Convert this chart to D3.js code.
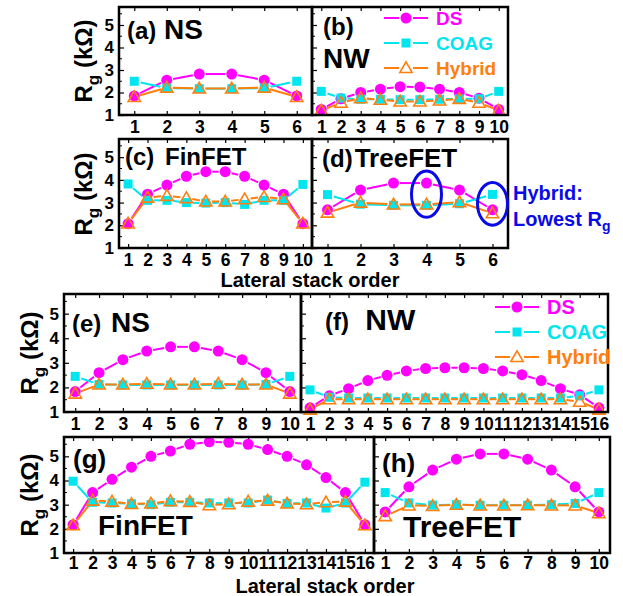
<!DOCTYPE html>
<html>
<head>
<meta charset="utf-8">
<script src="https://cdn.jsdelivr.net/npm/d3@7"></script>
<style>
  body { margin: 0; background: #fff; }
  svg { display: block; }
  text { font-family: "Liberation Sans", Arial, sans-serif; font-weight: bold; }
</style>
</head>
<body>
<svg id="chart" width="623" height="596"></svg>
<script>
// stack order categories
const order6 = [1, 2, 3, 4, 5, 6];
const order10 = [1, 2, 3, 4, 5, 6, 7, 8, 9, 10];
const order16 = [1, 2, 3, 4, 5, 6, 7, 8, 9, 10, 11, 12, 13, 14, 15, 16];
const yTicks = [1, 2, 3, 4, 5];

// (a) NS, 6 stacks
const aDS     = [1.85, 2.55, 2.82, 2.82, 2.55, 1.85];
const aCOAG   = [2.50, 2.20, 2.17, 2.17, 2.20, 2.50];
const aHybrid = [1.80, 2.22, 2.18, 2.18, 2.22, 1.80];
// (b) NW, 10 stacks
const bDS     = [1.25, 1.72, 2.00, 2.15, 2.26, 2.24, 2.15, 2.00, 1.75, 1.25];
const bCOAG   = [2.05, 1.75, 1.70, 1.70, 1.68, 1.68, 1.70, 1.72, 1.72, 2.05];
const bHybrid = [1.20, 1.55, 1.75, 1.68, 1.60, 1.60, 1.65, 1.72, 1.55, 1.20];
// (c) FinFET, 10 stacks
const cDS     = [2.07, 3.37, 3.77, 4.16, 4.36, 4.36, 4.16, 3.77, 3.37, 2.07];
const cCOAG   = [3.82, 3.10, 3.10, 3.00, 2.98, 3.00, 2.92, 3.10, 3.10, 3.80];
const cHybrid = [2.08, 3.22, 3.30, 3.20, 3.05, 3.05, 3.15, 3.25, 3.15, 2.08];
// (d) TreeFET, 6 stacks
const dDS     = [2.68, 3.55, 3.86, 3.86, 3.55, 2.68];
const dCOAG   = [3.35, 2.93, 2.88, 2.88, 2.95, 3.36];
const dHybrid = [2.56, 3.00, 2.92, 2.92, 3.02, 2.53];
// (e) NS, 10 stacks
const eDS     = [1.83, 2.60, 3.13, 3.48, 3.65, 3.65, 3.48, 3.13, 2.60, 1.83];
const eCOAG   = [2.45, 2.12, 2.10, 2.10, 2.10, 2.10, 2.10, 2.10, 2.12, 2.45];
const eHybrid = [1.75, 2.12, 2.12, 2.15, 2.12, 2.12, 2.15, 2.12, 2.12, 1.75];
// (f) NW, 16 stacks
const fDS     = [1.17, 1.66, 1.95, 2.28, 2.49, 2.67, 2.77, 2.80, 2.80, 2.77, 2.67, 2.52, 2.28, 1.95, 1.70, 1.17];
const fCOAG   = [1.90, 1.60, 1.57, 1.57, 1.57, 1.57, 1.57, 1.57, 1.57, 1.57, 1.57, 1.57, 1.57, 1.57, 1.66, 1.90];
const fHybrid = [1.10, 1.52, 1.52, 1.52, 1.52, 1.52, 1.52, 1.52, 1.52, 1.52, 1.52, 1.52, 1.52, 1.52, 1.42, 1.10];
// (g) FinFET, 16 stacks
const gDS     = [2.17, 3.50, 4.05, 4.55, 5.00, 5.22, 5.50, 5.60, 5.58, 5.50, 5.28, 5.00, 4.65, 4.12, 3.50, 2.17];
const gCOAG   = [3.97, 3.10, 3.07, 3.04, 3.00, 3.10, 3.10, 3.07, 3.07, 3.07, 3.19, 3.05, 3.07, 2.86, 3.07, 3.93];
const gHybrid = [2.15, 3.17, 3.13, 3.03, 3.05, 3.15, 3.12, 2.98, 3.02, 3.13, 3.17, 3.05, 3.02, 3.10, 3.13, 2.15];
// (h) TreeFET, 10 stacks
const hDS     = [2.70, 3.74, 4.43, 4.88, 5.10, 5.10, 4.88, 4.43, 3.74, 2.70];
const hCOAG   = [3.50, 3.07, 2.98, 3.00, 2.98, 2.98, 2.98, 3.00, 3.05, 3.50];
const hHybrid = [2.53, 2.97, 2.95, 3.00, 2.97, 2.97, 2.98, 2.97, 2.97, 2.65];

const colDS = '#ff00ff', colCOAG = '#00e5ee', colHyb = '#ff7f0e', colNote = '#0a0ae6';

const svg = d3.select('#chart');

// panel boxes (pixels)
const panels = [
  {id: 'a', x0: 119, x1: 312, y0: 7,   y1: 115, order: order6,  ds: aDS, coag: aCOAG, hyb: aHybrid, ylab: true,  pad: 6},
  {id: 'b', x0: 312, x1: 508, y0: 7,   y1: 115, order: order10, ds: bDS, coag: bCOAG, hyb: bHybrid, ylab: false, pad: 6},
  {id: 'c', x0: 119, x1: 312, y0: 139, y1: 248, order: order10, ds: cDS, coag: cCOAG, hyb: cHybrid, ylab: true,  pad: 6},
  {id: 'd', x0: 312, x1: 508, y0: 139, y1: 248, order: order6,  ds: dDS, coag: dCOAG, hyb: dHybrid, ylab: false, pad: 6},
  {id: 'e', x0: 64,  x1: 301, y0: 294, y1: 412, order: order10, ds: eDS, coag: eCOAG, hyb: eHybrid, ylab: true,  pad: 6},
  {id: 'f', x0: 301, x1: 608, y0: 294, y1: 412, order: order16, ds: fDS, coag: fCOAG, hyb: fHybrid, ylab: false, pad: 6},
  {id: 'g', x0: 64,  x1: 374, y0: 437, y1: 553, order: order16, ds: gDS, coag: gCOAG, hyb: gHybrid, ylab: true,  pad: 4},
  {id: 'h', x0: 374, x1: 610, y0: 437, y1: 553, order: order10, ds: hDS, coag: hCOAG, hyb: hHybrid, ylab: false, pad: 4}
];

// line with small gaps at the markers, like the original
function gapLine(g, pts, color, gap) {
  for (let i = 0; i < pts.length - 1; i++) {
    const [x1, y1] = pts[i], [x2, y2] = pts[i + 1];
    const len = Math.hypot(x2 - x1, y2 - y1);
    if (len <= 2 * gap) continue;
    const ux = (x2 - x1) / len, uy = (y2 - y1) / len;
    g.append('line')
      .attr('x1', x1 + ux * gap).attr('y1', y1 + uy * gap)
      .attr('x2', x2 - ux * gap).attr('y2', y2 - uy * gap)
      .attr('stroke', color).attr('stroke-width', 2);
  }
}

const tri = d3.symbol().type(d3.symbolTriangle).size(66);

function marker(g, kind, x, y) {
  if (kind === 'ds') {
    g.append('circle').attr('cx', x).attr('cy', y).attr('r', 5.5).attr('fill', colDS);
  } else if (kind === 'coag') {
    g.append('rect').attr('x', x - 4.5).attr('y', y - 4.5).attr('width', 9).attr('height', 9).attr('fill', colCOAG);
  } else {
    g.append('path').attr('d', tri).attr('transform', `translate(${x},${y + 1})`)
      .attr('fill', 'none').attr('stroke', colHyb).attr('stroke-width', 1.6);
  }
}

panels.forEach(p => {
  const n = p.order.length;
  p.x = d3.scaleLinear().domain([0.53, n + 0.47]).range([p.x0, p.x1]);
  p.y = d3.scaleLinear().domain([1, 5.8]).range([p.y1, p.y0]);
  const g = svg.append('g').attr('class', 'panel-' + p.id);

  // y axis (left)
  const yAx = d3.axisLeft(p.y).tickValues(yTicks).tickSizeInner(-5).tickSizeOuter(0).tickPadding(5)
    .tickFormat(p.ylab ? d3.format('d') : '');
  g.append('g').attr('transform', `translate(${p.x0},0)`).call(yAx)
    .call(s => s.select('.domain').remove())
    .call(s => s.selectAll('text').style('font-size', '17px').attr('fill', '#000'))
    .call(s => s.selectAll('line').attr('stroke-width', 1.2));
  [1.5, 2.5, 3.5, 4.5, 5.5].forEach(v => {
    g.append('line').attr('x1', p.x0).attr('x2', p.x0 + 3).attr('y1', p.y(v)).attr('y2', p.y(v))
      .attr('stroke', '#000').attr('stroke-width', 1);
  });

  // x axis (bottom) and top ticks
  const xAx = d3.axisBottom(p.x).tickValues(p.order).tickSizeInner(-4).tickSizeOuter(0).tickPadding(p.pad)
    .tickFormat(d3.format('d'));
  g.append('g').attr('transform', `translate(0,${p.y1})`).call(xAx)
    .call(s => s.select('.domain').remove())
    .call(s => s.selectAll('text').style('font-size', '17.5px').attr('fill', '#000'))
    .call(s => s.selectAll('line').attr('stroke-width', 1.2));
  const tAx = d3.axisTop(p.x).tickValues(p.order).tickSizeInner(-4).tickSizeOuter(0).tickFormat('');
  g.append('g').attr('transform', `translate(0,${p.y0})`).call(tAx)
    .call(s => s.select('.domain').remove())
    .call(s => s.selectAll('line').attr('stroke-width', 1.2));

  // series
  const series = [['ds', p.ds, colDS], ['coag', p.coag, colCOAG], ['hyb', p.hyb, colHyb]];
  series.forEach(([kind, vals, col]) => {
    const pts = vals.map((v, i) => [p.x(p.order[i]), p.y(v)]);
    gapLine(g, pts, col, kind === 'hyb' ? 6 : 6.5);
  });
  series.forEach(([kind, vals]) => {
    vals.forEach((v, i) => marker(g, kind, p.x(p.order[i]), p.y(v)));
  });

  // frame
  g.append('rect').attr('x', p.x0).attr('y', p.y0).attr('width', p.x1 - p.x0).attr('height', p.y1 - p.y0)
    .attr('fill', 'none').attr('stroke', '#000').attr('stroke-width', 2.5);
});

// panel titles
function label(x, y, parts) {
  const t = svg.append('text').attr('x', x).attr('y', y).attr('fill', '#000');
  parts.forEach(([s, size, dx]) => t.append('tspan').attr('dx', dx || 0).style('font-size', size + 'px').text(s));
}
label(127, 39, [['(a)', 24], [' NS', 28]]);
label(323, 35, [['(b)', 24]]);
label(323, 68, [['NW', 28]]);
label(125, 165, [['(c)', 24], [' FinFET', 24, 4]]);
label(322, 167, [['(d)', 24], ['TreeFET', 26, 2]]);
label(72, 332, [['(e)', 24], [' NS', 28, 2]]);
label(325, 330, [['(f)', 24], [' NW', 30, 8]]);
label(73, 468, [['(g)', 26]]);
label(98, 535, [['FinFET', 28]]);
label(382, 472, [['(h)', 26]]);
label(403, 537, [['TreeFET', 30]]);

// y titles
function yTitle(x, y) {
  const t = svg.append('text').attr('transform', `translate(${x},${y}) rotate(-90)`)
    .attr('text-anchor', 'middle').style('font-size', '24px').attr('fill', '#000');
  t.append('tspan').text('R');
  t.append('tspan').attr('dy', 7).style('font-size', '17px').text('g');
  t.append('tspan').attr('dy', -7).text(' (kΩ)');
}
yTitle(92, 61);
yTitle(92, 194);
yTitle(38, 353);
yTitle(38, 495);

// x titles
svg.append('text').attr('x', 310).attr('y', 287).attr('text-anchor', 'middle')
  .style('font-size', '20px').text('Lateral stack order');
svg.append('text').attr('x', 325).attr('y', 593).attr('text-anchor', 'middle')
  .style('font-size', '20px').text('Lateral stack order');

// legends
const legNames = ['DS', 'COAG', 'Hybrid'];
const legKinds = ['ds', 'coag', 'hyb'];
const legCols = [colDS, colCOAG, colHyb];
function legend(x0, y0, step, size) {
  const g = svg.append('g');
  legNames.forEach((name, i) => {
    const y = y0 + i * step;
    g.append('line').attr('x1', x0).attr('x2', x0 + 15).attr('y1', y).attr('y2', y)
      .attr('stroke', legCols[i]).attr('stroke-width', 2);
    g.append('line').attr('x1', x0 + 29).attr('x2', x0 + 44).attr('y1', y).attr('y2', y)
      .attr('stroke', legCols[i]).attr('stroke-width', 2);
    marker(g, legKinds[i], x0 + 22, y);
    g.append('text').attr('x', x0 + 52).attr('y', y + 7).attr('fill', legCols[i])
      .style('font-size', size + 'px').text(name);
  });
}
legend(384, 18, 25, 19);
legend(495, 307, 25, 20);

// annotation in (d)
const pd = panels[3];
[4, 6].forEach(k => {
  const i = k - 1;
  const vals = [pd.ds[i], pd.coag[i], pd.hyb[i]];
  const top = pd.y(d3.max(vals)), bot = pd.y(d3.min(vals));
  svg.append('ellipse').attr('cx', pd.x(k)).attr('cy', (top + bot) / 2)
    .attr('rx', 15).attr('ry', (bot - top) / 2 + 12)
    .attr('fill', 'none').attr('stroke', colNote).attr('stroke-width', 3);
});
svg.append('text').attr('x', 513).attr('y', 200).attr('fill', colNote).style('font-size', '20px').text('Hybrid:');
const low = svg.append('text').attr('x', 513).attr('y', 226).attr('fill', colNote).style('font-size', '20px');
low.append('tspan').text('Lowest R');
low.append('tspan').attr('dy', 5).style('font-size', '14px').text('g');
</script>
</body>
</html>
